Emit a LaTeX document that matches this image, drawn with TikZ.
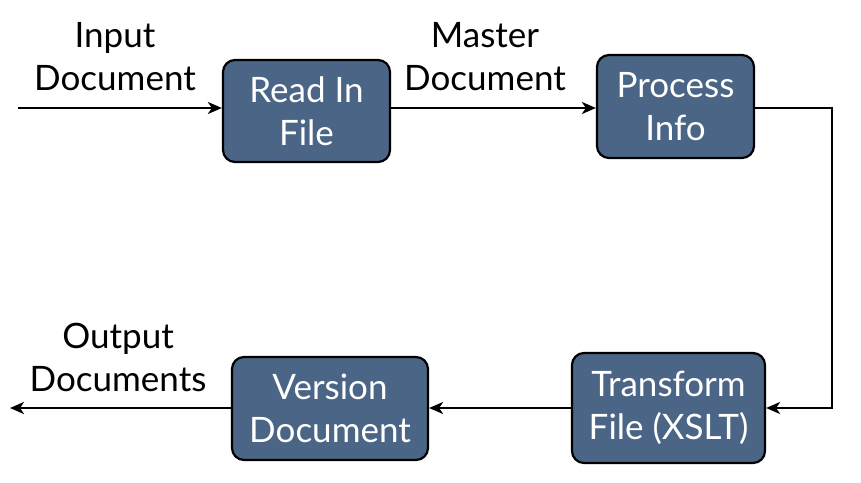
\documentclass[tikz,border=0pt]{standalone}
\usepackage{fontspec}
\setmainfont{Lato}
\usetikzlibrary{arrows.meta}
\definecolor{boxblue}{RGB}{74,101,133}
\begin{document}
\begin{tikzpicture}[x=1pt,y=-1pt,
  box/.style={draw=black, line width=2.2pt, fill=boxblue, rounded corners=12pt, text=white, align=center, font=\fontsize{35}{43}\selectfont, inner sep=0pt},
  lbl/.style={align=center, font=\fontsize{35}{43}\selectfont, text=black, inner sep=0pt},
  conn/.style={line width=2.5pt, -{Stealth[length=14pt,width=12pt,inset=4pt]}}]
\useasboundingbox[fill=white] (0,0) rectangle (861,482);
\node[box, minimum width=167pt, minimum height=102pt] (read) at (306.5,111) {Read In\\File};
\node[box, minimum width=157pt, minimum height=103pt] (proc) at (675.5,106.5) {Process\\Info};
\node[box, minimum width=193pt, minimum height=110pt] (trans) at (668.5,408) {Transform\\File (XSLT)};
\node[box, minimum width=196pt, minimum height=103pt] (ver) at (330,408.5) {Version\\Document};
\node[lbl] (lin) at (115,57) {Input\\Document};
\node[lbl] (lmaster) at (485,57) {Master\\Document};
\node[lbl] (lout) at (118,357) {Output\\Documents};
\coordinate (in) at (18,108);
\coordinate (c1) at (832,108);
\coordinate (c2) at (832,408);
\coordinate (out) at (10,408);
\draw[conn] (in) -- (in -| read.west);
\draw[conn] (read.east |- c1) -- (proc.west |- c1);
\draw[conn] (proc.east |- c1) -- (c1) -- (c2) -- (trans.east |- c2);
\draw[conn] (trans.west |- c2) -- (ver.east |- c2);
\draw[conn] (ver.west |- c2) -- (out);
\end{tikzpicture}
\end{document}
